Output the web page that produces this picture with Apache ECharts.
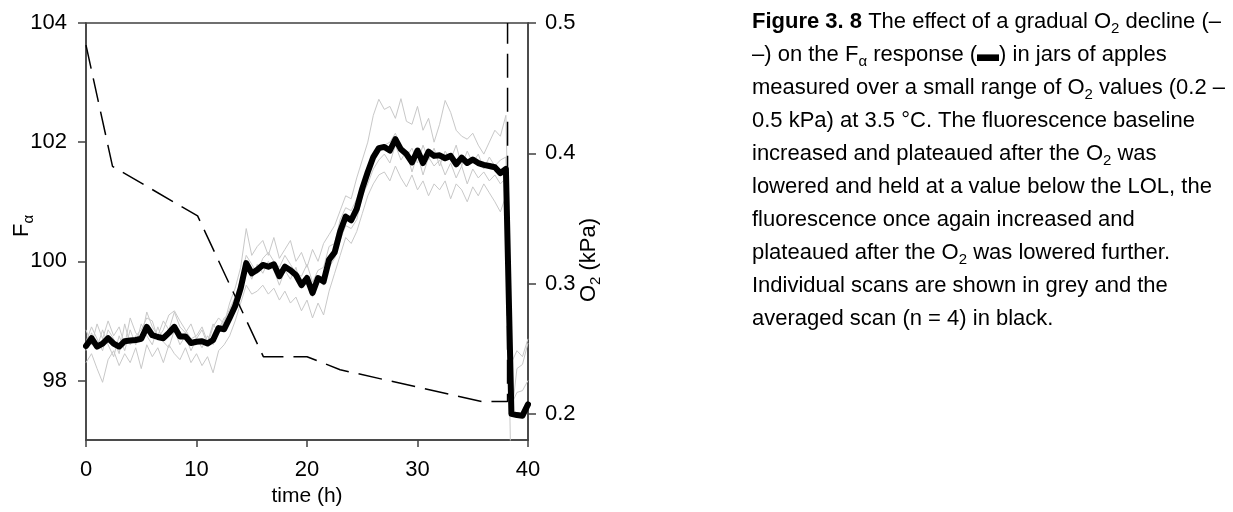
<!DOCTYPE html>
<html>
<head>
<meta charset="utf-8">
<script src="https://cdn.jsdelivr.net/npm/echarts@6/dist/echarts.min.js"></script>
<style>
html,body{margin:0;padding:0;background:#fff;}
#chart{width:1233px;height:512px;}
</style>
</head>
<body>
<div id="chart"></div>
<script>
// ---- data ----
var hours = [0,0.5,1,1.5,2,2.5,3,3.5,4,4.5,5,5.5,6,6.5,7,7.5,8,8.5,9,9.5,10,10.5,11,11.5,12,12.5,13,13.5,14,14.5,15,15.5,16,16.5,17,17.5,18,18.5,19,19.5,20,20.5,21,21.5,22,22.5,23,23.5,24,24.5,25,25.5,26,26.5,27,27.5,28,28.5,29,29.5,30,30.5,31,31.5,32,32.5,33,33.5,34,34.5,35,35.5,36,36.5,37,37.5,38,38.5,39,39.5,40];

var meanF = [98.58,98.71,98.57,98.62,98.71,98.62,98.57,98.66,98.67,98.68,98.70,98.90,98.76,98.73,98.71,98.80,98.90,98.74,98.74,98.63,98.65,98.66,98.62,98.68,98.88,98.86,99.05,99.25,99.55,99.97,99.80,99.86,99.94,99.91,99.95,99.75,99.91,99.85,99.77,99.60,99.72,99.47,99.72,99.66,100.03,100.15,100.50,100.75,100.69,100.88,101.22,101.50,101.75,101.90,101.92,101.86,102.05,101.88,101.80,101.66,101.86,101.65,101.84,101.77,101.78,101.73,101.77,101.63,101.74,101.65,101.71,101.65,101.62,101.60,101.58,101.48,101.55,97.44,97.42,97.41,97.60];

var scan1 = [98.85,98.6,98.95,98.7,99.0,98.75,98.9,98.6,99.05,98.8,98.7,99.15,98.9,98.75,99.0,98.85,99.15,98.9,98.8,98.95,98.7,98.85,98.6,98.9,99.05,98.95,99.3,99.55,99.9,100.55,100.1,100.25,100.35,100.1,100.4,100.05,100.2,100.35,100.0,100.15,99.9,100.2,100.0,100.3,100.45,100.6,100.85,101.1,101.05,101.4,101.7,102.0,102.45,102.72,102.55,102.6,102.4,102.73,102.35,102.3,102.6,102.2,102.4,102.0,102.3,102.7,102.5,102.2,102.1,102.05,102.15,101.95,101.8,102.0,102.2,102.1,102.45,98.3,98.5,98.4,98.7];
var scan2 = [98.3,98.45,98.2,97.97,98.35,98.5,98.25,98.45,98.3,98.55,98.2,98.6,98.4,98.55,98.3,98.6,98.45,98.35,98.55,98.3,98.45,98.25,98.4,98.13,98.5,98.6,98.75,99.0,99.3,99.6,99.45,99.5,99.6,99.45,99.55,99.35,99.5,99.3,99.4,99.17,99.35,99.05,99.3,99.1,99.5,99.8,100.1,100.4,100.3,100.5,100.8,101.1,101.3,101.45,101.5,101.35,101.6,101.4,101.25,101.45,101.2,101.35,101.1,101.3,101.2,101.35,101.05,101.3,101.2,101.0,101.25,101.1,101.3,101.15,101.0,100.83,101.1,96.0,95.6,95.5,95.8];
var scan3 = [98.5,98.8,98.55,98.85,98.6,98.4,98.75,98.5,98.85,98.6,98.95,98.75,98.6,98.9,98.65,98.55,98.85,98.6,98.75,98.5,98.7,98.55,98.75,98.6,98.85,99.05,99.1,99.35,99.6,99.9,99.7,99.95,99.8,100.0,99.85,99.6,99.85,99.7,99.9,99.55,99.7,99.4,99.75,99.6,99.9,100.05,100.35,100.6,100.55,100.7,101.1,101.3,101.55,101.7,101.8,101.65,101.95,101.7,101.85,101.5,101.8,101.45,101.75,101.6,101.7,101.45,101.65,101.4,101.6,101.3,101.55,101.4,101.5,101.35,101.45,101.3,101.4,97.6,97.8,97.83,98.0];
var scan4 = [98.65,98.9,98.7,98.5,98.85,98.7,98.45,98.95,98.6,98.75,98.85,99.05,99.0,98.7,98.85,99.1,99.17,99.0,98.85,98.7,98.75,98.9,98.65,98.95,98.8,99.0,99.2,99.4,99.7,100.1,99.95,99.8,100.05,100.15,100.0,99.9,100.1,99.95,99.8,99.75,99.95,99.65,99.85,99.9,100.25,100.3,100.7,100.9,100.85,101.05,101.3,101.6,101.75,101.85,101.95,102.0,102.15,101.9,101.75,101.9,101.65,101.95,101.7,101.9,101.6,101.85,101.7,101.95,101.6,101.85,101.65,101.8,101.55,101.75,101.6,101.7,101.75,97.4,98.2,98.27,98.63];

var o2Time = [0,2.4,10.1,16.05,20.0,23.0,35.8,38.15,38.15];
var o2Val  = [0.483,0.390,0.352,0.244,0.244,0.234,0.2096,0.2096,0.5];

var xTicks = [0,10,20,30,40];
var leftTicks = [98,100,102,104];
var rightTicks = [0.2,0.3,0.4,0.5];

var captionLines = [
  '{b|Figure 3. 8}{n| The effect of a gradual O}{s|2}{n| decline (–}',
  '{n|–) on the F}{s|α}{n| response (}{bar|▬}{n|) in jars of apples}',
  '{n|measured over a small range of O}{s|2}{n| values (0.2 –}',
  '{n|0.5 kPa) at 3.5 °C. The fluorescence baseline}',
  '{n|increased and plateaued after the O}{s|2}{n| was}',
  '{n|lowered and held at a value below the LOL, the}',
  '{n|fluorescence once again increased and}',
  '{n|plateaued after the O}{s|2}{n| was lowered further.}',
  '{n|Individual scans are shown in grey and the}',
  '{n|averaged scan (n = 4) in black.}'
];

// ---- chart ----
var FONT = '"Liberation Sans", Arial, Helvetica, sans-serif';
var AX = '#404040';
function pairs(xs, ys){ return xs.map(function(x,i){ return [x, ys[i]]; }); }

var rich = {
  n: {fontSize: 22, fontFamily: FONT, color: '#000', lineHeight: 32, verticalAlign: 'middle'},
  b: {fontSize: 22, fontFamily: FONT, color: '#000', fontWeight: 'bold', lineHeight: 32, verticalAlign: 'middle'},
  s: {fontSize: 15, fontFamily: FONT, color: '#000', padding: [14, 0, 0, 0], verticalAlign: 'middle'},
  bar: {fontSize: 22, fontFamily: FONT, color: '#000', lineHeight: 32, verticalAlign: 'middle'}
};

var graphics = captionLines.map(function(t, i){
  return {type: 'text', x: 752, y: 22 + i * 33,
    style: {text: t, rich: rich, fill: '#000', verticalAlign: 'middle', align: 'left', font: '22px ' + FONT}};
});
graphics.push({type: 'text', x: 22, y: 226, rotation: Math.PI / 2,
  style: {text: '{n|F}{s|α}', rich: rich, fill: '#000', align: 'center', verticalAlign: 'middle', font: '22px ' + FONT}});
graphics.push({type: 'text', x: 589, y: 260, rotation: Math.PI / 2,
  style: {text: '{n|O}{s|2}{n| (kPa)}', rich: rich, fill: '#000', align: 'center', verticalAlign: 'middle', font: '22px ' + FONT}});

var series = [];
[scan1, scan2, scan3, scan4].forEach(function(s){
  series.push({type: 'line', data: pairs(hours, s), symbol: 'none', xAxisIndex: 0, yAxisIndex: 0,
    lineStyle: {color: '#c8c8c8', width: 1}, z: 2, silent: true});
});
series.push({type: 'line', data: pairs(o2Time, o2Val), symbol: 'none', yAxisIndex: 1,
  lineStyle: {color: '#000', width: 1.5, type: [24, 10]}, z: 3, silent: true});
series.push({type: 'line', data: pairs(hours, meanF), symbol: 'none', yAxisIndex: 0,
  lineStyle: {color: '#000', width: 6, join: 'round', cap: 'round'}, z: 4, silent: true});

var option = {
  animation: false,
  backgroundColor: '#fff',
  grid: {left: 86, right: 705, top: 23, bottom: 69, show: true, borderColor: AX, borderWidth: 1.5, backgroundColor: 'transparent'},
  xAxis: {
    type: 'value', min: 0, max: 40, interval: 10,
    name: 'time (h)', nameLocation: 'middle', nameGap: 43,
    nameTextStyle: {fontSize: 21, fontFamily: FONT, color: '#000'},
    axisLine: {show: true, lineStyle: {color: AX, width: 1.5}},
    axisTick: {show: true, length: 7, lineStyle: {color: AX, width: 1.5}, customValues: xTicks},
    axisLabel: {fontSize: 22, fontFamily: FONT, color: '#000', margin: 19, customValues: xTicks},
    splitLine: {show: false}
  },
  yAxis: [{
    type: 'value', min: 97, max: 104, position: 'left',
    axisLine: {show: true, lineStyle: {color: AX, width: 1.5}},
    axisTick: {show: true, length: 8, lineStyle: {color: AX, width: 1.5}, customValues: leftTicks},
    axisLabel: {fontSize: 22, fontFamily: FONT, color: '#000', margin: 19, customValues: leftTicks},
    splitLine: {show: false}
  }, {
    type: 'value', min: 0.18, max: 0.5, position: 'right',
    axisLine: {show: true, lineStyle: {color: AX, width: 1.5}},
    axisTick: {show: true, length: 8, lineStyle: {color: AX, width: 1.5}, customValues: rightTicks},
    axisLabel: {fontSize: 22, fontFamily: FONT, color: '#000', margin: 17, customValues: rightTicks,
      formatter: function(v){ return v.toFixed(1); }},
    splitLine: {show: false}
  }],
  graphic: graphics,
  series: series
};

var chart = echarts.init(document.getElementById('chart'), null, {renderer: 'canvas'});
chart.setOption(option);
</script>
</body>
</html>
